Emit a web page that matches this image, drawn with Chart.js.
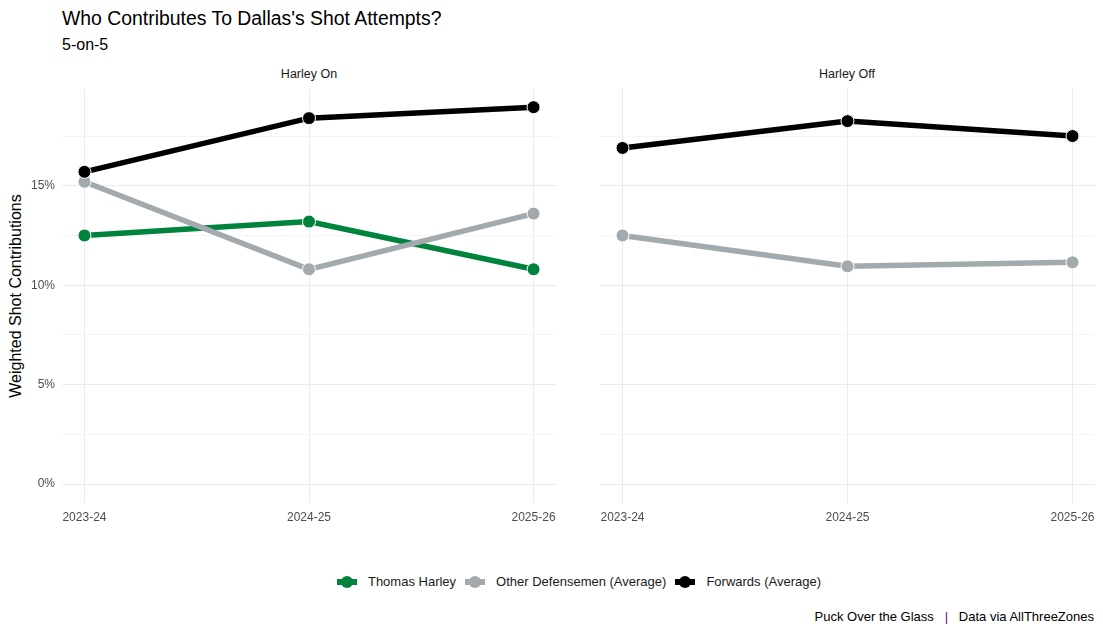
<!DOCTYPE html>
<html lang="en">
<head>
  <meta charset="UTF-8">
  <title>Who Contributes To Dallas's Shot Attempts?</title>
  <script src="https://cdn.jsdelivr.net/npm/chart.js"></script>
  <style>
    body { margin: 0; background: #fff; font-family: "Liberation Sans", Arial, sans-serif; }
    .page { position: relative; width: 1103px; height: 633px; overflow: hidden; }
    .title { position: absolute; left: 62px; top: 7px; font-size: 19.4px; color: #000; }
    .subtitle { position: absolute; left: 62px; top: 36px; font-size: 16px; color: #000; }
    .strip { position: absolute; top: 67px; font-size: 12.5px; color: #1a1a1a; text-align: center; width: 200px; }
    .ytitle { position: absolute; left: 16px; top: 296px; font-size: 16px; color: #000;
      transform: translate(-50%, -50%) rotate(-90deg); white-space: nowrap; }
    canvas { position: absolute; }
    .legend { position: absolute; top: 574px; left: 62px; width: 1033px; text-align: center; font-size: 13px; color: #1a1a1a; }
    .legend span.item { display: inline-block; margin: 0 4px; }
    .key { display: inline-block; position: relative; width: 22px; height: 14px; vertical-align: middle; margin-right: 10px; top: -1px; }
    .key i { position: absolute; left: 1px; right: 1px; top: 4px; height: 6px; }
    .key b { position: absolute; left: 5px; top: 1px; width: 12px; height: 12px; border-radius: 50%; }
    .caption { position: absolute; right: 9px; top: 609px; font-size: 13px; color: #000; white-space: pre; }
    .caption .pipe { color: #800080; }
  </style>
</head>
<body>
<div class="page">
  <div class="title">Who Contributes To Dallas's Shot Attempts?</div>
  <div class="subtitle">5-on-5</div>
  <div class="strip" style="left:209px">Harley On</div>
  <div class="strip" style="left:747px">Harley Off</div>
  <div class="ytitle">Weighted Shot Contributions</div>
  <canvas id="onChart" width="570" height="453" style="left:0;top:80px;width:570px;height:453px"></canvas>
  <canvas id="offChart" width="520" height="453" style="left:583px;top:80px;width:520px;height:453px"></canvas>
  <div class="legend" id="legend"></div>
  <div class="caption">Puck Over the Glass   <span class="pipe">|</span>   Data via AllThreeZones</div>
</div>

<script>
  // seasons on the x axis
  const seasons = ['2023-24', '2024-25', '2025-26'];

  // Harley On (percent)
  const harleyOn = [12.5, 13.2, 10.8];
  const otherDOn = [15.2, 10.8, 13.6];
  const forwardsOn = [15.7, 18.4, 18.95];

  // Harley Off (percent)
  const otherDOff = [12.5, 10.95, 11.15];
  const forwardsOff = [16.9, 18.25, 17.5];

  const seriesNames = ['Thomas Harley', 'Other Defensemen (Average)', 'Forwards (Average)'];
  const seriesColors = ['#00843d', '#a2aaad', '#000000'];

  const yTicks = [0, 2.5, 5, 7.5, 10, 12.5, 15, 17.5];

  function toPoints(vals) {
    return vals.map((v, i) => ({ x: i, y: v }));
  }

  function makeDataset(name, vals) {
    const idx = seriesNames.indexOf(name);
    return {
      label: name,
      data: toPoints(vals),
      borderColor: seriesColors[idx],
      backgroundColor: seriesColors[idx],
      borderWidth: 5.5,
      pointRadius: 6.5,
      pointBorderColor: '#ffffff',
      pointBorderWidth: 1,
      pointBackgroundColor: seriesColors[idx],
      order: 2 - idx,
      tension: 0
    };
  }

  function noPad(s) {
    s.paddingTop = 0;
    s.paddingBottom = 0;
    s.paddingLeft = 0;
    s.paddingRight = 0;
  }

  function makeChart(id, datasets, showY, padRight) {
    return new Chart(document.getElementById(id), {
      type: 'line',
      data: { datasets: datasets },
      options: {
        responsive: false,
        animation: false,
        events: [],
        layout: { padding: { top: 8.5, right: padRight, left: 0, bottom: 0 } },
        plugins: { legend: { display: false }, tooltip: { enabled: false } },
        scales: {
          x: {
            type: 'linear',
            min: -0.1,
            max: 2.1,
            afterBuildTicks: s => { s.ticks = seasons.map((_, i) => ({ value: i })); },
            afterFit: s => { s.height = 30; noPad(s); },
            ticks: {
              callback: v => seasons[v],
              color: '#4d4d4d',
              font: { family: 'Liberation Sans', size: 12 },
              padding: 7,
              maxRotation: 0
            },
            grid: { color: '#ebebeb', lineWidth: 1, drawTicks: false },
            border: { display: false }
          },
          y: {
            type: 'linear',
            min: -0.95,
            max: 19.89,
            afterBuildTicks: s => { s.ticks = yTicks.map(v => ({ value: v })); },
            afterFit: s => { s.width = showY ? 62 : 17; noPad(s); },
            ticks: {
              display: showY,
              callback: v => (v % 5 === 0 ? v + '%' : ''),
              color: '#4d4d4d',
              font: { family: 'Liberation Sans', size: 12 },
              padding: 7
            },
            grid: {
              color: ctx => (ctx.tick && ctx.tick.value % 5 === 0 ? '#ebebeb' : '#f2f2f2'),
              lineWidth: ctx => (ctx.tick && ctx.tick.value % 5 === 0 ? 1 : 0.8),
              drawTicks: false
            },
            border: { display: false }
          }
        }
      }
    });
  }

  makeChart('onChart', [
    makeDataset('Thomas Harley', harleyOn),
    makeDataset('Other Defensemen (Average)', otherDOn),
    makeDataset('Forwards (Average)', forwardsOn)
  ], true, 14);

  makeChart('offChart', [
    makeDataset('Other Defensemen (Average)', otherDOff),
    makeDataset('Forwards (Average)', forwardsOff)
  ], false, 8);

  // legend
  const legend = document.getElementById('legend');
  seriesNames.forEach((name, i) => {
    const item = document.createElement('span');
    item.className = 'item';
    item.innerHTML = '<span class="key"><i style="background:' + seriesColors[i] + '"></i><b style="background:' +
      seriesColors[i] + '"></b></span>' + name;
    legend.appendChild(item);
  });
</script>
</body>
</html>
